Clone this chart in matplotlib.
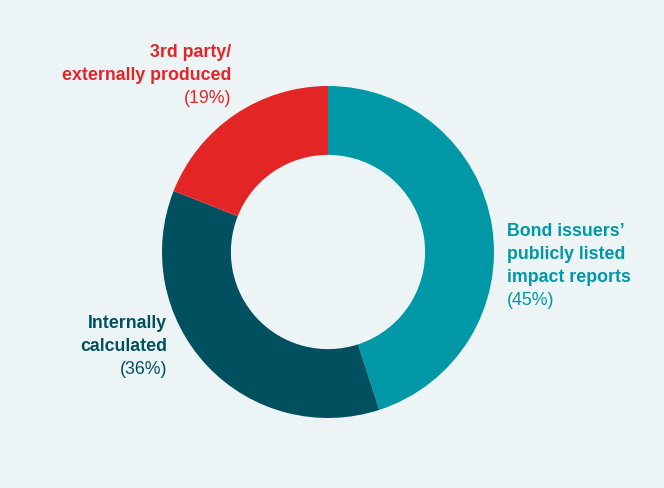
import matplotlib
matplotlib.use("Agg")
import matplotlib.pyplot as plt

# data
labels = ["Bond issuers’\npublicly listed\nimpact reports", "Internally\ncalculated", "3rd party/\nexternally produced"]
shares = [45, 36, 19]
colors = ["#0098A6", "#00505F", "#E32526"]

bg = "#EDF4F6"
plt.rcParams['font.family'] = ['Liberation Sans', 'DejaVu Sans']

fig = plt.figure(figsize=(6.64, 4.88), dpi=100, facecolor=bg)
ax = fig.add_axes([0, 0, 1, 1])
ax.set_facecolor(bg)

ax.pie(shares, colors=colors, startangle=90, counterclock=False, radius=1.0,
       wedgeprops=dict(width=0.415, edgecolor="none"))
ax.set_xlim(-328 / 166, 336 / 166)
ax.set_ylim(-236 / 166, 252 / 166)
ax.set_aspect("equal")
ax.axis("off")


def px(x, y):
    # image pixel -> data coords
    return (x - 328) / 166, (252 - y) / 166


# label anchor (top of first line), alignment
anchors = [(507, 223, "left"), (167, 315, "right"), (231, 44, "right")]
fs = 12.8
for lab, s, c, (x, y, ha) in zip(labels, shares, colors, anchors):
    lines = lab.split("\n")
    for i, ln in enumerate(lines):
        tx, ty = px(x, y + i * 23.0)
        ax.text(tx, ty, ln, ha=ha, va="top", color=c, fontsize=fs, fontweight="bold")
    tx, ty = px(x, y + len(lines) * 23.0)
    ax.text(tx, ty, f"({s}%)", ha=ha, va="top", color=c, fontsize=fs)

fig.savefig("out.png", dpi=100, facecolor=bg)
